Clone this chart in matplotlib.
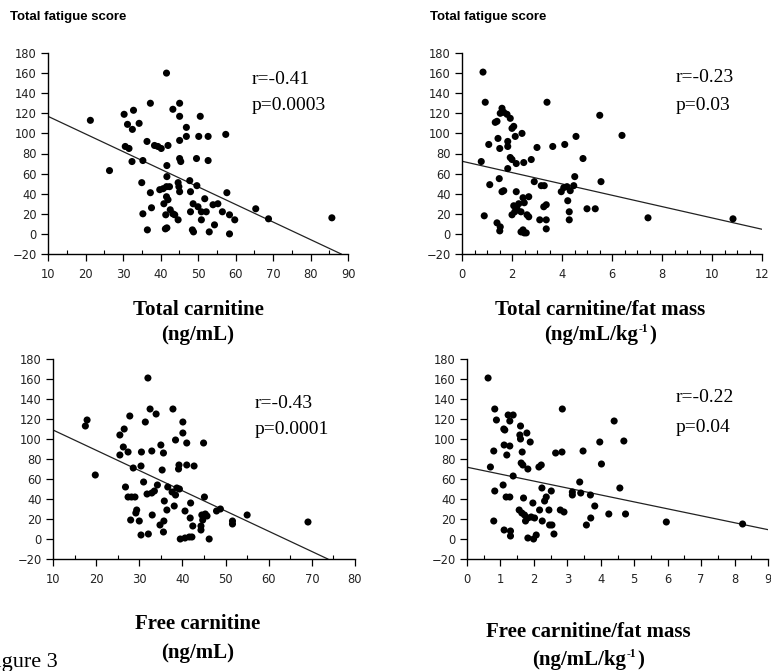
import numpy as np
import matplotlib
matplotlib.use('Agg')
import matplotlib.pyplot as plt
from matplotlib.ticker import MultipleLocator

# ---------------- data ----------------
tc_x = [21.3,26.4,30.3,31.2,32.5,32.8,34.3,30.6,31.6,32.4,
        35.3,35.0,35.3,36.4,37.3,37.3,37.6,36.5,38.4,39.3,
        40.2,42.0,41.6,41.7,41.7,39.8,40.7,41.6,42.4,40.9,
        41.6,42.0,41.4,42.6,43.3,41.3,41.7,43.3,45.1,45.1,
        45.1,45.1,45.4,44.7,44.9,45.1,43.8,44.7,46.9,46.9,
        47.8,48.0,48.0,48.5,48.8,48.7,49.6,49.7,50.2,50.6,
        50.0,50.9,50.9,51.8,52.2,52.7,52.7,53.0,54.0,54.4,
        55.3,56.5,57.4,57.7,58.4,59.8,58.4,65.4,68.8,85.7]
tc_y = [113,63,119,109,104,123,110,87,85,72,
        73,51,20,92,130,41,26,4,88,87,
        85,88,160,68,57,44,45,47,47,30,
        37,34,19,24,20,5,6,124,130,117,
        93,75,72,51,47,42,19,14,106,97,
        53,42,22,4,2,30,75,48,97,117,
        27,22,14,35,22,97,73,2,29,9,
        30,22,99,41,19,14,0,25,15,16]

tcf_x = [0.84,0.77,0.93,0.89,1.07,1.11,1.33,1.40,1.44,1.51,
         1.49,1.40,1.51,1.53,1.53,1.60,1.67,1.60,1.67,1.80,
         1.93,1.83,1.83,1.83,1.93,2.00,2.07,2.13,2.00,2.17,
         2.17,2.07,2.11,2.00,2.20,2.27,2.36,2.44,2.40,2.47,
         2.49,2.36,2.44,2.49,2.57,2.67,2.60,2.67,2.77,2.89,
         3.00,3.11,3.17,3.29,3.27,3.37,3.37,3.37,3.40,3.63,
         3.97,4.07,4.11,4.20,4.23,4.29,4.29,4.33,4.47,4.51,
         4.56,4.84,5.00,5.33,5.51,5.56,6.40,7.44,10.84]
tcf_y = [161,72,131,18,89,49,111,112,95,85,
         55,11,3,7,120,125,121,42,43,119,
         115,92,87,65,76,105,107,97,74,70,
         42,28,22,19,25,30,22,36,100,71,
         31,2,4,1,1,37,19,17,74,52,
         86,14,48,48,27,29,14,5,131,87,
         42,46,89,47,33,22,14,43,48,57,
         97,75,25,25,118,52,98,16,15]

fc_x = [17.9,17.5,19.8,25.5,25.5,26.3,26.5,26.8,27.4,27.8,
        27.4,28.2,28.6,28.0,29.0,29.2,29.4,30.0,30.4,30.5,
        30.4,31.0,31.4,31.8,32.0,32.1,32.5,32.9,32.9,33.0,
        33.5,33.9,34.2,34.8,35.0,35.3,35.6,35.6,35.7,35.8,
        36.4,36.6,37.6,37.8,38.1,38.4,38.4,38.7,39.1,39.2,
        39.3,39.5,40.1,40.1,40.6,40.6,41.0,41.0,41.6,41.8,
        41.9,42.2,42.4,42.7,44.3,44.3,44.5,44.7,44.9,45.1,
        45.3,45.7,46.2,47.9,48.8,51.6,51.6,55.0,69.1]
fc_y = [119,113,64,104,84,92,110,52,87,123,
        42,42,71,19,42,26,29,18,73,87,
        4,57,117,45,161,5,130,88,46,24,
        48,125,54,14,94,69,86,7,18,38,
        29,52,47,130,33,99,44,51,70,74,
        50,0,117,106,28,1,96,74,2,21,
        36,2,13,73,13,9,24,19,96,42,
        25,23,0,28,30,18,15,24,17]

fcf_x = [0.63,0.70,0.83,0.88,0.80,0.83,0.80,1.08,1.10,1.13,
         1.11,1.17,1.11,1.19,1.23,1.28,1.28,1.28,1.30,1.30,
         1.38,1.38,1.60,1.58,1.60,1.65,1.62,1.67,1.69,1.56,
         1.64,1.72,1.75,1.79,1.82,1.82,1.89,1.82,1.92,1.97,
         1.99,2.07,2.02,2.15,2.22,2.17,2.25,2.24,2.32,2.37,
         2.45,2.47,2.54,2.52,2.60,2.65,2.79,2.84,2.90,2.85,
         3.15,3.15,3.37,3.40,3.47,3.57,3.69,3.70,3.82,3.97,
         4.02,4.24,4.40,4.57,4.69,4.74,5.96,8.24]
fcf_y = [161,72,130,119,88,48,18,54,110,109,
         94,42,9,84,124,118,93,42,8,3,
         124,63,113,104,100,87,76,74,41,29,
         26,24,18,106,70,1,97,21,22,36,
         0,4,21,72,74,29,18,51,38,42,
         29,14,14,48,5,86,29,87,27,130,
         44,47,57,46,88,14,44,21,33,97,
         75,25,118,51,98,25,17,15]

# regression lines (intercept, slope)
fit_intercepts = [134.5, 72.3, 129.25, 71.8]
fit_slopes = [-1.752, -5.64, -2.025, -6.94]

r_labels = ["r=-0.41", "r=-0.23", "r=-0.43", "r=-0.22"]
p_labels = ["p=0.0003", "p=0.03", "p=0.0001", "p=0.04"]
x_title_main = ["Total carnitine", "Total carnitine/fat mass",
                "Free carnitine", "Free carnitine/fat mass"]
# unit label pieces: (base, superscript, tail)
x_title_unit = [("(ng/mL)", "", ""), ("(ng/mL/kg", "-1", ")"),
                ("(ng/mL)", "", ""), ("(ng/mL/kg", "-1", ")")]
y_title = "Total fatigue score"
y_ticks = [-20, 0, 20, 40, 60, 80, 100, 120, 140, 160, 180]

# ---------------- layout ----------------
W, H = 771, 671
fig = plt.figure(figsize=(W / 100, H / 100), dpi=100)
renderer = fig.canvas.get_renderer()

def px_axes(l, r, t, b):
    return fig.add_axes([l / W, 1 - b / H, (r - l) / W, (b - t) / H])

serif = ['Liberation Serif', 'DejaVu Serif']

def unit_text(cx, baseline, base, sup, tail, size=15, supsize=8.5, rise=8):
    pieces = []
    t1 = fig.text(0, 1 - baseline / H, base, fontsize=size, fontweight='bold', family=serif,
                  ha='left', va='baseline')
    pieces.append((t1, 0))
    if sup:
        t2 = fig.text(0, 1 - (baseline - rise) / H, sup, fontsize=supsize, fontweight='bold',
                      family=serif, ha='left', va='baseline')
        t3 = fig.text(0, 1 - baseline / H, tail, fontsize=size, fontweight='bold', family=serif,
                      ha='left', va='baseline')
        pieces += [(t2, 0.5), (t3, 0.5)]
    widths = [p.get_window_extent(renderer).width for p, _ in pieces]
    gaps = [g for _, g in pieces]
    total = sum(widths) + sum(gaps)
    x = cx - total / 2
    for (p, g), w in zip(pieces, widths):
        x += g
        p.set_x(x / W)
        x += w

panels = [
    dict(box=(48, 348, 53, 254), x=tc_x, y=tc_y, xlim=(10, 90), major=10, minor=5,
         txt=(0.68, 0.866, 0.741), xt=(198, 310, 340)),
    dict(box=(462, 762, 53, 254), x=tcf_x, y=tcf_y, xlim=(0, 12), major=2, minor=0.5,
         txt=(0.713, 0.876, 0.741), xt=(600, 310, 340)),
    dict(box=(53, 355, 359, 559), x=fc_x, y=fc_y, xlim=(10, 80), major=10, minor=5,
         txt=(0.666, 0.775, 0.645), xt=(198, 624, 658)),
    dict(box=(467, 768, 359, 559), x=fcf_x, y=fcf_y, xlim=(0, 9), major=1, minor=0.5,
         txt=(0.694, 0.805, 0.66), xt=(588, 632, 665)),
]

for i, pn in enumerate(panels):
    ax = px_axes(*pn['box'])
    ax.set_xlim(*pn['xlim'])
    ax.set_ylim(-20, 180)
    ax.scatter(pn['x'], pn['y'], s=26, color='black', edgecolors='none', zorder=3, clip_on=False)
    b0, b1 = fit_intercepts[i], fit_slopes[i]
    x0 = pn['xlim'][0]
    x1 = min(pn['xlim'][1], (-20 - b0) / b1)
    xs = np.array([x0, x1])
    ax.plot(xs, b0 + b1 * xs, color='#222222', lw=0.9, zorder=2)
    for s in ['top', 'right']:
        ax.spines[s].set_visible(False)
    for s in ['left', 'bottom']:
        ax.spines[s].set_linewidth(1.0)
    ax.set_yticks(y_ticks)
    ax.xaxis.set_major_locator(MultipleLocator(pn['major']))
    ax.xaxis.set_minor_locator(MultipleLocator(pn['minor']))
    ax.tick_params(axis='both', which='major', direction='out', length=5, width=0.9,
                   labelsize=8.3, pad=3, labelcolor='#222222')
    ax.tick_params(axis='x', which='major', pad=5)
    ax.tick_params(axis='x', which='minor', direction='in', length=3, width=0.8)
    for lab in ax.get_xticklabels() + ax.get_yticklabels():
        lab.set_family('DejaVu Sans')
    tx, ry, py = pn['txt']
    ax.text(tx, ry, r_labels[i], transform=ax.transAxes, fontsize=14, family=serif,
            va='center', ha='left')
    ax.text(tx, py, p_labels[i], transform=ax.transAxes, fontsize=14, family=serif,
            va='center', ha='left')
    cx, y1, y2 = pn['xt']
    fig.text(cx / W, 1 - y1 / H, x_title_main[i], fontsize=15, fontweight='bold',
             family=serif, ha='center', va='center')
    base, sup, tail = x_title_unit[i]
    unit_text(cx, y2, base, sup, tail)

fig.text(10 / W, 1 - 17 / H, y_title, fontsize=9.5, fontweight='bold',
         family=['Liberation Sans', 'DejaVu Sans'], ha='left', va='center')
fig.text(430 / W, 1 - 17 / H, y_title, fontsize=9.5, fontweight='bold',
         family=['Liberation Sans', 'DejaVu Sans'], ha='left', va='center')

fig.text(58 / W, 1 - 662 / H, "Figure 3", fontsize=16, family=serif, ha='right', va='center')

fig.savefig('out.png', dpi=100)
